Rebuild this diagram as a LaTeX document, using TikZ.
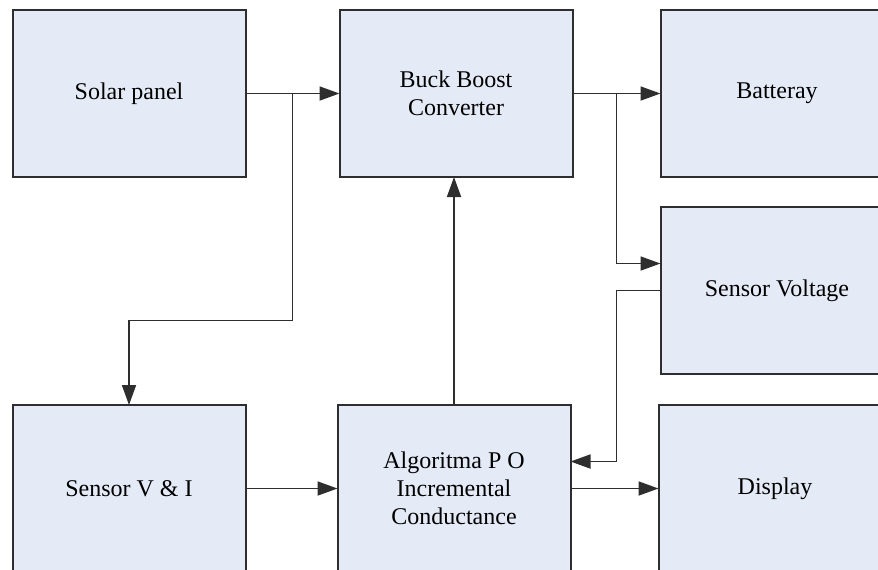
\documentclass[tikz,border=0pt]{standalone}
\usepackage{fontspec}
\setmainfont{Liberation Serif}
\newfontfamily\boxfont{Liberation Serif}
\usetikzlibrary{positioning,arrows.meta,calc}
\definecolor{boxfill}{HTML}{E5EBF6}
\definecolor{lineclr}{HTML}{2E2E2E}

\begin{document}
\begin{tikzpicture}[
      x=0.5pt, y=-0.5pt,
      node distance=45pt,
      >={Triangle[length=10pt,width=7pt]},
      box/.style={
        rectangle, draw=lineclr, fill=boxfill,
        line width=1pt, outer sep=0pt,
        align=center,
        font=\boxfont\fontsize{12}{14}\selectfont,
        minimum width=116.5pt,
        minimum height=83.5pt
      },
      link/.style={->, draw=lineclr, line width=0.9pt}
    ]

    \clip (0,0) rectangle (878,569);

    % top row
    \node[box] (solar) at (129,93.5) {Solar panel};
    \node[box, right=47pt of solar] (buck) {Buck Boost\\Converter};
    \node[box, right=44pt of buck] (battery) {Batteray};
    \node[box, below=15pt of battery] (sensv) {Sensor Voltage};

    % bottom row
    \node[box, below=114pt of solar] (sensvi) {Sensor V \& I};
    \node[box, right=46pt of sensvi] (algo) {Algoritma P O\\Incremental\\Conductance};
    \node[box, right=44pt of algo] (display) {Display};

    % branch points
    \coordinate (j1) at ($(solar.east)!0.5!(buck.west)$);
    \coordinate (j2) at ($(buck.east)!0.5!(battery.west)$);

    \draw[link] (solar) -- (buck);
    \draw[link] (buck) -- (battery);
    \draw[link] (j1) -- ++(0,227) -| (sensvi.north);
    \draw[link] (j2) |- ([yshift=13.5pt]sensv.west);
    \draw[link] (sensv.west) -- (sensv.west -| j2) |- ([yshift=13.5pt]algo.east);
    \draw[link] (sensvi) -- (algo);
    \draw[link] (algo) -- (display);
    \draw[link] (algo.north) -- (algo.north |- buck.south);
\end{tikzpicture}
\end{document}
